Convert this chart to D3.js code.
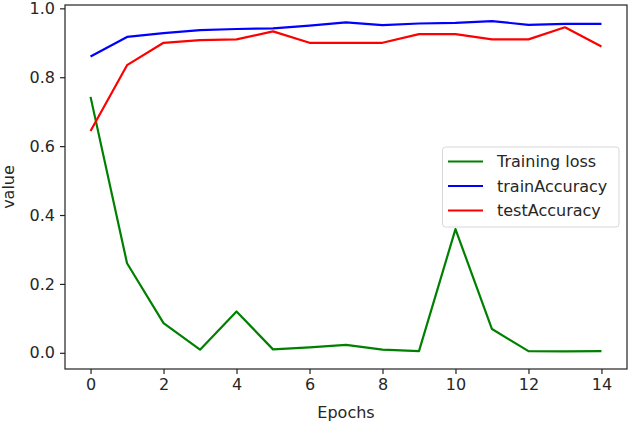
<!DOCTYPE html>
<html>
<head>
<meta charset="utf-8">
<script src="https://cdn.jsdelivr.net/npm/d3@7"></script>
<style>
body{margin:0;background:#fff;}
text{font-family:'DejaVu Sans',sans-serif;fill:#262626;}
</style>
</head>
<body>
<svg id="svg" width="630" height="424"></svg>
<script>
// values
let epochs=[0,1,2,3,4,5,6,7,8,9,10,11,12,13,14];
let trainingLoss=[0.743,0.26,0.086,0.009,0.12,0.01,0.016,0.023,0.009,0.005,0.359,0.069,0.005,0.004,0.005];
let trainAccuracy=[0.86,0.917,0.928,0.937,0.940,0.942,0.950,0.959,0.951,0.956,0.958,0.963,0.952,0.955,0.955];
let testAccuracy=[0.644,0.835,0.90,0.908,0.910,0.933,0.90,0.90,0.90,0.925,0.925,0.910,0.910,0.945,0.889];
let xTicks=[0,2,4,6,8,10,12,14];
let yTicks=[0.0,0.2,0.4,0.6,0.8,1.0];
let series=[
    {name:"Training loss",values:trainingLoss,color:"#008000"},
    {name:"trainAccuracy",values:trainAccuracy,color:"#0000ff"},
    {name:"testAccuracy",values:testAccuracy,color:"#ff0000"}
];

const pL=65,pR=627,pT=5,pB=369;
const svg=d3.select("#svg");
const x=d3.scaleLinear().domain([-0.7,14.7]).range([pL,pR]);
const y=d3.scaleLinear().domain([-0.047,1.0097]).range([pB,pT]);

// axes
svg.append("g").attr("transform","translate(0,"+pB+")")
    .call(d3.axisBottom(x).tickValues(xTicks).tickFormat(d3.format("d")).tickSize(5).tickPadding(5))
    .call(g=>g.select(".domain").remove());
svg.append("g").attr("transform","translate("+pL+",0)")
    .call(d3.axisLeft(y).tickValues(yTicks).tickFormat(d3.format(".1f")).tickSize(5).tickPadding(5))
    .call(g=>g.select(".domain").remove());
svg.selectAll(".tick line").attr("stroke","#222").attr("stroke-width",1.2);
svg.selectAll(".tick text").style("font-size","16px").style("font-family","'DejaVu Sans'").attr("fill","#262626");

svg.append("rect").attr("x",pL).attr("y",pT).attr("width",pR-pL).attr("height",pB-pT)
    .attr("fill","none").attr("stroke","#222").attr("stroke-width",1.2);

// lines
const line=d3.line().x((d,i)=>x(epochs[i])).y(d=>y(d));
series.forEach(s=>{
    svg.append("path").attr("d",line(s.values)).attr("fill","none")
        .attr("stroke",s.color).attr("stroke-width",2.2).attr("stroke-linejoin","round");
});

// labels
svg.append("text").attr("x",(pL+pR)/2).attr("y",418).attr("text-anchor","middle").style("font-size","16px").text("Epochs");
svg.append("text").attr("transform","translate(14,"+((pT+pB)/2)+") rotate(-90)").attr("text-anchor","middle").style("font-size","16px").text("value");

// legend
const lg=svg.append("g");
lg.append("rect").attr("x",442.5).attr("y",147).attr("width",176.5).attr("height",80).attr("rx",3)
    .attr("fill","#fff").attr("fill-opacity",0.8).attr("stroke","#d8d8d8");
series.forEach((s,i)=>{
    let yy=161.5+i*24.5;
    lg.append("line").attr("x1",448).attr("x2",483).attr("y1",yy).attr("y2",yy).attr("stroke",s.color).attr("stroke-width",2.2);
    lg.append("text").attr("x",497).attr("y",yy+5.5).style("font-size","16px").text(s.name);
});
</script>
</body>
</html>
